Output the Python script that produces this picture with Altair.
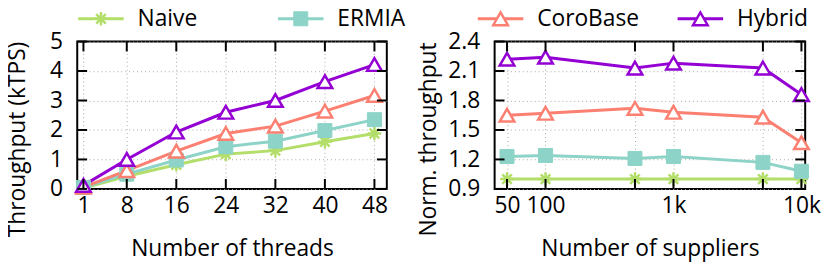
import altair as alt
import pandas as pd

# ---------------- data ----------------
series = ["Naive", "ERMIA", "CoroBase", "Hybrid"]
colors = ["#b3de69", "#8dd3c7", "#fb8072", "#9400d3"]

threads = [1, 8, 16, 24, 32, 40, 48]
naive_t = [0.03, 0.43, 0.82, 1.18, 1.30, 1.60, 1.88]
ermia_t = [0.05, 0.50, 0.98, 1.43, 1.62, 1.98, 2.35]
coro_t = [0.06, 0.62, 1.28, 1.88, 2.13, 2.64, 3.17]
hybrid_t = [0.12, 1.00, 1.93, 2.60, 3.00, 3.64, 4.22]

suppliers = [50, 100, 500, 1000, 5000, 10000]
naive_s = [1.0, 1.0, 1.0, 1.0, 1.0, 1.0]
ermia_s = [1.23, 1.24, 1.21, 1.23, 1.17, 1.08]
coro_s = [1.65, 1.67, 1.72, 1.68, 1.63, 1.37]
hybrid_s = [2.22, 2.24, 2.13, 2.18, 2.13, 1.86]

left_x_ticks = [1, 8, 16, 24, 32, 40, 48]
left_y_ticks = [0, 1, 2, 3, 4, 5]
right_x_ticks = [50, 100, 500, 1000, 5000, 10000]
right_x_labeled = [50, 100, 1000, 10000]
right_x_labels = ["50", "100", "1k", "10k"]
right_y_ticks = [0.9, 1.2, 1.5, 1.8, 2.1, 2.4]

# ---------------- style ----------------
FONT = "Open Sans"
FS = 23
W1, W2, H = 313, 314, 149
TICK = 10
LEG_Y, LEG_H = 14.5, 20
ASTERISK = "M-1,0L1,0M0,-1L0,1M-0.7,-0.7L0.7,0.7M-0.7,0.7L0.7,-0.7"
GRID = dict(grid=True, gridDash=[1, 3], gridColor="#a8a8a8", gridWidth=1)
XAX = dict(ticks=False, domain=False, labelPadding=6, titleBaseline="alphabetic",
           titleY=67, labelOverlap=False, **GRID)
YAX = dict(ticks=False, domain=False, labelPadding=15, titleBaseline="alphabetic",
           titleY=98.5, titleAngle=270, **GRID)

color_scale = alt.Scale(domain=series, range=colors)


def long_df(xs, ys_list):
    rows = []
    for name, ys in zip(series, ys_list):
        for xv, yv in zip(xs, ys):
            rows.append({"x": xv, "y": yv, "series": name})
    return pd.DataFrame(rows)


def point_layers(base, xoffset=0):
    stroke = alt.Stroke("series:N", scale=color_scale, legend=None)
    fill = alt.Fill("series:N", scale=color_scale, legend=None)
    star = base.transform_filter(alt.datum.series == series[0]).mark_point(
        shape=ASTERISK, size=190, filled=False, strokeWidth=2.5, opacity=1, xOffset=xoffset
    ).encode(stroke=stroke)
    square = base.transform_filter(alt.datum.series == series[1]).mark_point(
        shape="square", size=200, filled=True, strokeWidth=1, opacity=1, xOffset=xoffset
    ).encode(stroke=stroke, fill=fill)
    tri = base.transform_filter(
        alt.FieldOneOfPredicate(field="series", oneOf=series[2:])
    ).mark_point(
        shape="triangle-up", size=220, filled=True, fill="white", strokeWidth=2.5,
        opacity=1, xOffset=xoffset
    ).encode(stroke=stroke)
    return [star, square, tri]


def tick_layers(xt, yt, width, X, Y):
    xdf = pd.DataFrame({"x": xt})
    ydf = pd.DataFrame({"y": yt})
    rule = dict(color="black", strokeWidth=2)
    bottom = alt.Chart(xdf).mark_rule(**rule).encode(
        x=X, y=alt.value(H), y2=alt.value(H - TICK))
    top = alt.Chart(xdf).mark_rule(**rule).encode(
        x=X, y=alt.value(0), y2=alt.value(TICK))
    left = alt.Chart(ydf).mark_rule(**rule).encode(
        y=Y, x=alt.value(0), x2=alt.value(TICK))
    right = alt.Chart(ydf).mark_rule(**rule).encode(
        y=Y, x=alt.value(width), x2=alt.value(width - TICK))
    return [bottom, top, left, right]


def panel(df, xscale, xaxis, yscale, yaxis, xt, yt, width):
    X = alt.X("x:Q", scale=xscale, axis=xaxis)
    Y = alt.Y("y:Q", scale=yscale, axis=yaxis)
    base = alt.Chart(df).encode(x=X, y=Y)
    line = alt.Chart(df).mark_line(strokeWidth=3).encode(
        x=X, y=Y,
        color=alt.Color("series:N", scale=color_scale, legend=None),
    )
    return alt.layer(
        line, *point_layers(base), *tick_layers(xt, yt, width, X, Y),
    ).properties(width=width, height=H)


# ---------------- left panel ----------------
left_df = long_df(threads, [naive_t, ermia_t, coro_t, hybrid_t])
left = panel(
    left_df,
    alt.Scale(domain=[0, 50], nice=False, zero=False),
    alt.Axis(values=left_x_ticks, title="Number of threads", format="d", **XAX),
    alt.Scale(domain=[0, 5], nice=False),
    alt.Axis(values=left_y_ticks, title="Throughput (kTPS)", format="d",
             titleX=-53, **YAX),
    left_x_ticks, left_y_ticks, W1,
)

# ---------------- right panel ----------------
label_expr = " : ".join(
    f"datum.value == {v} ? '{t}'" for v, t in zip(right_x_labeled, right_x_labels)
) + " : ''"
right_df = long_df(suppliers, [naive_s, ermia_s, coro_s, hybrid_s])
right = panel(
    right_df,
    alt.Scale(type="log", domain=[40, 10700], nice=False),
    alt.Axis(values=right_x_ticks, title="Number of suppliers", labelExpr=label_expr,
             **XAX),
    alt.Scale(domain=[0.9, 2.4], nice=False, zero=False),
    alt.Axis(values=right_y_ticks, title="Norm. throughput", format=".1f",
             titleX=-59.5, **YAX),
    right_x_ticks, right_y_ticks, W2,
)

# ---------------- legend ----------------
leg_df = pd.DataFrame({"series": series})
leg_x = alt.X("series:N", axis=None,
              scale=alt.Scale(type="point", domain=series, range=[1, 607], padding=0))
leg_base = alt.Chart(leg_df).encode(x=leg_x, y=alt.value(LEG_Y))
leg_line = leg_base.mark_rule(strokeWidth=3, x2Offset=46).encode(
    x2=alt.X2("series:N"),
    color=alt.Color("series:N", scale=color_scale, legend=None),
)
leg_text = leg_base.mark_text(align="left", baseline="middle", dx=60, font=FONT,
                              fontSize=FS, color="black").encode(text="series:N")
legend = alt.layer(leg_line, *point_layers(leg_base, xoffset=23), leg_text).properties(
    width=730, height=LEG_H, view=alt.ViewBackground(strokeOpacity=0)
)

chart = alt.vconcat(
    legend,
    alt.hconcat(left, right, spacing=109, bounds="flush"),
    spacing=17.5,
    bounds="flush",
).properties(
    padding={"left": -3, "top": -5, "right": 0, "bottom": 0}
).configure_view(
    stroke="black", strokeWidth=2
).configure_axis(
    labelFont=FONT, titleFont=FONT, labelFontSize=FS, titleFontSize=FS,
    labelColor="black", titleColor="black", titleFontWeight="normal",
)

chart.save("out.html", embed_options={"renderer": "svg", "actions": False})
